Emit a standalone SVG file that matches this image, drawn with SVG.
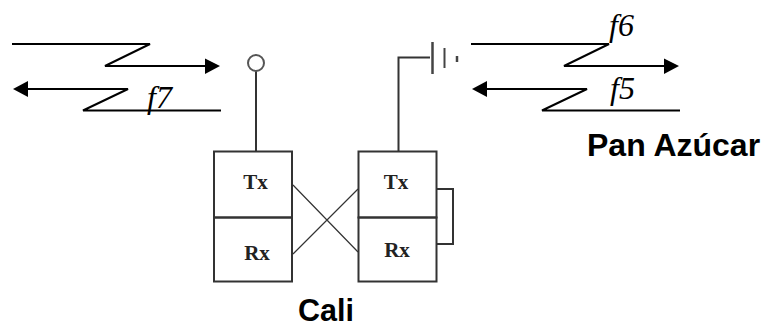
<svg xmlns="http://www.w3.org/2000/svg" width="763" height="327" viewBox="0 0 763 327">
<style>
.l{fill:none;stroke:#000;stroke-width:2}
.g{fill:none;stroke:#333;stroke-width:2}
.x{fill:none;stroke:#333;stroke-width:1.200}
.a{fill:#000;stroke:none}
.f{font-family:"Liberation Serif",serif;font-style:italic;font-size:32px;fill:#000}
.t{font-family:"Liberation Serif",serif;font-weight:bold;font-size:21px;fill:#222;text-anchor:middle}
.b{font-family:"Liberation Sans",Arial,sans-serif;font-weight:bold;font-size:32px;fill:#000}
</style>
<rect width="763" height="327" fill="#fff"/>
<g id="connectors">
<path class="l" d="M12 44H150L105 66H205"/>
<path class="a" d="M205 58.500L220 66L205 74Z"/>
<path class="l" d="M221 110.500H83L128 89H28"/>
<path class="a" d="M28 81L13 89L28 97Z"/>
<path class="l" d="M471 44H609L564 66H664"/>
<path class="a" d="M664 58.500L679 66L664 74Z"/>
<path class="l" d="M680 110.500H542L587 89H487"/>
<path class="a" d="M487 81L472 89L487 97Z"/>
<path class="g" d="M256 71V151"/>
<path class="g" d="M398.500 151V57.500H430"/>
<path class="g" d="M437 189H453V244H437"/>
<path class="x" d="M293 185L358 252M293 254L358 189"/>
</g>
<g id="antenna"><circle cx="256" cy="63" r="8" fill="#fff" stroke="#555" stroke-width="2"/></g>
<g id="battery">
<path d="M432.500 42V74" stroke="#444" stroke-width="2.500" fill="none"/>
<path d="M444.500 48V68" stroke="#444" stroke-width="2" fill="none"/>
<path d="M457 56V62" stroke="#444" stroke-width="2.500" fill="none"/>
</g>
<g id="left-unit">
<rect class="g" x="214" y="151.500" width="78" height="66"/>
<rect class="g" x="214" y="217.500" width="78" height="64"/>
<text class="t" x="255.500" y="189">Tx</text>
<text class="t" x="257" y="260">Rx</text>
</g>
<g id="right-unit">
<rect class="g" x="358.500" y="151.500" width="78" height="66"/>
<rect class="g" x="358.500" y="217.500" width="78" height="64"/>
<text class="t" x="396" y="189">Tx</text>
<text class="t" x="397" y="257">Rx</text>
</g>
<text class="f" x="147" y="108">f7</text>
<text class="f" x="609" y="36">f6</text>
<text class="f" x="610" y="99">f5</text>
<text class="b" x="587" y="156">Pan Azúcar</text>
<text class="b" style="font-size:30.500px" x="298" y="320.500">Cali</text>
</svg>
